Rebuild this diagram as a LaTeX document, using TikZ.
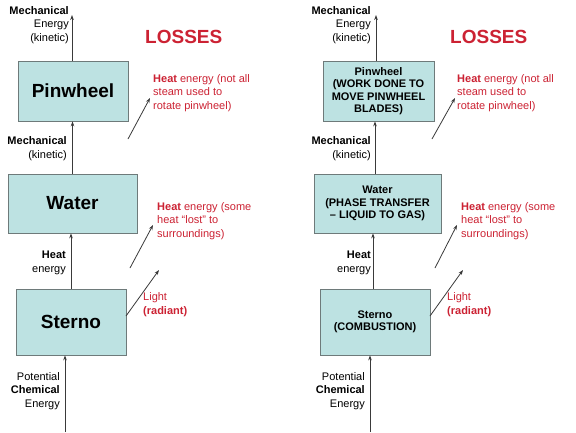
\documentclass[tikz,border=0pt]{standalone}
\usepackage{fontspec}
\setmainfont{Liberation Sans}
\usetikzlibrary{arrows.meta}
\definecolor{boxfill}{HTML}{BDE2E2}
\definecolor{boxline}{HTML}{6E7A7A}
\definecolor{losred}{HTML}{CC2233}
\definecolor{arrcol}{HTML}{3A3A3A}
\begin{document}
\begin{tikzpicture}[x=1pt,y=-1pt,
  box/.style={draw=boxline,fill=boxfill,line width=0.8pt,inner sep=0pt,align=center,font=\bfseries\fontsize{11}{12.5}\selectfont},
  bigbox/.style={box,font=\bfseries\fontsize{19}{22}\selectfont},
  flow/.style={draw=arrcol,line width=0.8pt,-{Stealth[length=5pt,width=3.6pt]}},
  lab/.style={inner sep=0pt,align=right,anchor=base east,font=\fontsize{11}{13.5}\selectfont},
  loss/.style={inner sep=0pt,align=left,anchor=base west,text=losred,font=\fontsize{11}{13.3}\selectfont},
  losses/.style={inner sep=0pt,anchor=base west,text=losred,font=\bfseries\fontsize{19}{22}\selectfont}]
\useasboundingbox[fill=white] (0,0) rectangle (576,432);

% ---------- left panel ----------
\node[bigbox,minimum width=110pt,minimum height=60pt] (lpin) at (73,91) {Pinwheel};
\node[bigbox,minimum width=129pt,minimum height=59pt] (lwat) at (72.5,203.5) {Water};
\node[bigbox,minimum width=110pt,minimum height=66pt] (lste) at (71,322) {Sterno};

\coordinate (ltop) at (72,15);
\coordinate (lbot) at (65,432);
\draw[flow] (lpin.north -| ltop) -- (ltop);
\draw[flow] (lwat.north) -- (lwat.north |- lpin.south);
\draw[flow] (lste.north) -- (lste.north |- lwat.south);
\draw[flow] (lbot) -- (lbot |- lste.south);

\coordinate (lpa) at (128,139); \coordinate (lpb) at (150,98);
\coordinate (lwa) at (130,268); \coordinate (lwb) at (153,225);
\coordinate (lsa) at (126,316); \coordinate (lsb) at (159,270);
\draw[flow] (lpa) -- (lpb);
\draw[flow] (lwa) -- (lwb);
\draw[flow] (lsa) -- (lsb);

\node[lab] (ltl) at (69,41) {\textbf{Mechanical}\\Energy\\(kinetic)};
\node[lab] (lml) at (67,158) {\textbf{Mechanical}\\(kinetic)};
\node[lab] (lhl) at (66,272) {\textbf{Heat}\\energy};
\node[lab] (lpl) at (60,407) {Potential\\\textbf{Chemical}\\Energy};

\node[losses] (llos) at (145,43) {LOSSES};
\node[loss] (lpls) at (153,109) {\textbf{Heat} energy (not all\\steam used to\\rotate pinwheel)};
\node[loss] (lwls) at (157,237) {\textbf{Heat} energy (some\\heat “lost” to\\surroundings)};
\node[loss] (lsls) at (143,314) {Light\\\textbf{(radiant)}};

% ---------- right panel ----------
\node[box,minimum width=111pt,minimum height=60pt] (rpin) at (378.5,91) {Pinwheel\\(WORK DONE TO\\MOVE PINWHEEL\\BLADES)};
\node[box,minimum width=127pt,minimum height=59pt] (rwat) at (377.5,203.5) {Water\\(PHASE TRANSFER\\– LIQUID TO GAS)};
\node[box,minimum width=110pt,minimum height=66pt] (rste) at (375,322) {Sterno\\(COMBUSTION)};

\coordinate (rtop) at (376,15);
\coordinate (rbot) at (370,432);
\draw[flow] (rpin.north -| rtop) -- (rtop);
\draw[flow] (375,174) coordinate (rwn) -- (rwn |- rpin.south);
\draw[flow] (373,289) coordinate (rsn) -- (rsn |- rwat.south);
\draw[flow] (rbot) -- (rbot |- rste.south);

\coordinate (rpa) at (432,139); \coordinate (rpb) at (455,98);
\coordinate (rwa) at (435,268); \coordinate (rwb) at (457,225);
\coordinate (rsa) at (430,316); \coordinate (rsb) at (463,270);
\draw[flow] (rpa) -- (rpb);
\draw[flow] (rwa) -- (rwb);
\draw[flow] (rsa) -- (rsb);

\node[lab] (rtl) at (371,41) {\textbf{Mechanical}\\Energy\\(kinetic)};
\node[lab] (rml) at (371,158) {\textbf{Mechanical}\\(kinetic)};
\node[lab] (rhl) at (371,272) {\textbf{Heat}\\energy};
\node[lab] (rpl) at (365,407) {Potential\\\textbf{Chemical}\\Energy};

\node[losses] (rlos) at (450,43) {LOSSES};
\node[loss] (rpls) at (457,109) {\textbf{Heat} energy (not all\\steam used to\\rotate pinwheel)};
\node[loss] (rwls) at (461,237) {\textbf{Heat} energy (some\\heat “lost” to\\surroundings)};
\node[loss] (rsls) at (447,314) {Light\\\textbf{(radiant)}};
\end{tikzpicture}
\end{document}
